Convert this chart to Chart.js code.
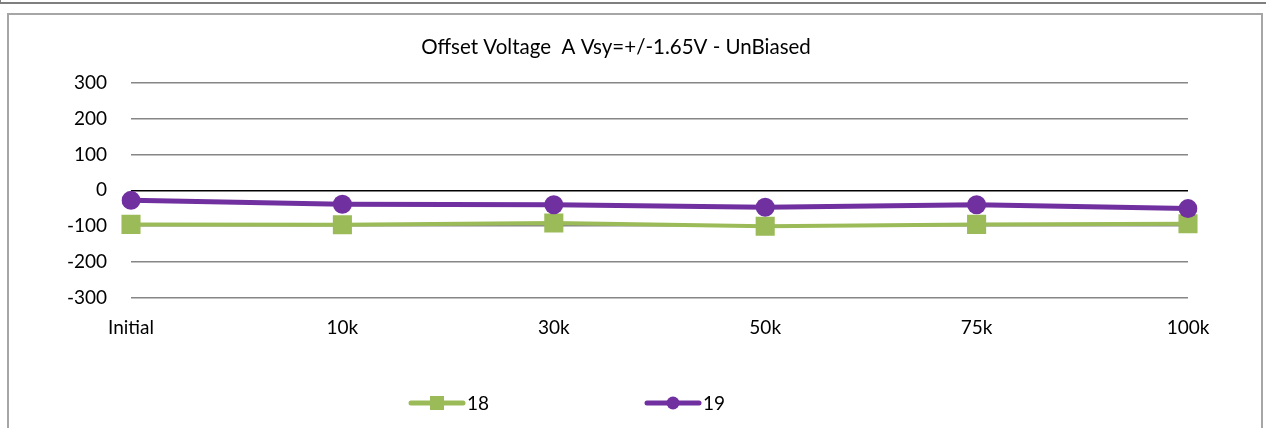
<!DOCTYPE html>
<html>
<head>
<meta charset="utf-8">
<script src="https://cdn.jsdelivr.net/npm/chart.js@4.4.1/dist/chart.umd.min.js"></script>
<style>
  html, body { margin: 0; padding: 0; background: #fff; overflow: hidden; }
  #topFrame { position: absolute; left: 0; top: 0; width: 1266px; height: 4px; border-left: 1px solid #7f7f7f; border-bottom: 2px solid #7f7f7f; box-sizing: border-box; }
  #frame { position: absolute; left: 7px; top: 13px; width: 1256px; height: 500px; border: 2px solid #a6a6a6; border-bottom: none; box-sizing: border-box; }
  #wrap { position: absolute; left: 0; top: 0; width: 1266px; height: 428px; }
</style>
</head>
<body>
<div id="topFrame"></div>
<div id="frame"></div>
<div id="wrap"><canvas id="chart" width="1266" height="428"></canvas></div>
<script>
// --- datos ---
const categories = ['Initial', '10k', '30k', '50k', '75k', '100k'];
const series18 = [-95, -96, -91, -100, -95, -93];
const series19 = [-28, -39, -40, -47, -40, -51];
const yTicks = [-300, -200, -100, 0, 100, 200, 300];

const GREEN = '#9BBB59';
const PURPLE = '#7030A0';
const FONT = 'Lato, "Open Sans", sans-serif';

// leyenda propia: línea + marcador, como en Excel
const legendPlugin = {
    id: 'excelLegend',
    afterDraw(chart) {
        const ctx = chart.ctx;
        const y = 403;
        const items = [
            { ds: chart.data.datasets[1], x: 411 },
            { ds: chart.data.datasets[0], x: 647 }
        ];
        ctx.save();
        items.forEach(it => {
            const ds = it.ds;
            ctx.strokeStyle = ds.borderColor;
            ctx.lineWidth = 5;
            ctx.lineCap = 'round';
            ctx.beginPath();
            ctx.moveTo(it.x, y);
            ctx.lineTo(it.x + 52, y);
            ctx.stroke();
            ctx.fillStyle = ds.backgroundColor;
            if (ds.pointStyle === 'rect') {
                ctx.fillRect(it.x + 26 - 7, y - 7, 14, 14);
            } else {
                ctx.beginPath();
                ctx.arc(it.x + 26, y, 6.5, 0, Math.PI * 2);
                ctx.fill();
            }
            ctx.fillStyle = '#000';
            ctx.font = '19px ' + FONT;
            ctx.textBaseline = 'middle';
            ctx.textAlign = 'left';
            ctx.fillText(ds.label, it.x + 56, y + 1);
        });
        ctx.restore();
    }
};

const ctx = document.getElementById('chart').getContext('2d');
const chart = new Chart(ctx, {
    type: 'line',
    data: {
        labels: categories,
        datasets: [{
            label: '19',
            data: series19,
            borderColor: PURPLE,
            backgroundColor: PURPLE,
            borderWidth: 5,
            pointStyle: 'circle',
            pointRadius: 9.5,
            pointHoverRadius: 9.5,
            pointBorderWidth: 0,
            tension: 0,
            order: 0
        }, {
            label: '18',
            data: series18,
            borderColor: GREEN,
            backgroundColor: GREEN,
            borderWidth: 4,
            pointStyle: 'rect',
            pointRadius: 13.5,
            pointHoverRadius: 13.5,
            pointBorderWidth: 0,
            tension: 0,
            order: 1
        }]
    },
    options: {
        responsive: false,
        animation: false,
        events: [],
        layout: { padding: { left: 44, right: 78, top: 0, bottom: 0 } },
        plugins: {
            legend: { display: false },
            tooltip: { enabled: false },
            title: {
                display: true,
                text: 'Offset Voltage  A Vsy=+/-1.65V - UnBiased',
                color: '#000',
                font: { family: FONT, size: 20.5, weight: 'normal' },
                padding: { top: 35, bottom: 23 }
            }
        },
        scales: {
            x: {
                offset: false,
                grid: { display: false, drawTicks: false },
                border: { display: false },
                ticks: { color: '#000', font: { family: FONT, size: 19 }, padding: 18, maxRotation: 0, autoSkip: false },
                afterFit(scale) { scale.height = 130; }
            },
            y: {
                min: -300,
                max: 300,
                afterBuildTicks(scale) { scale.ticks = yTicks.map(v => ({ value: v })); },
                grid: {
                    color: c => c.tick && c.tick.value === 0 ? '#000' : '#868686',
                    lineWidth: 1.5,
                    drawTicks: false
                },
                border: { display: false },
                ticks: { color: '#000', font: { family: FONT, size: 19 }, padding: 24 },
                afterFit(scale) { scale.width = 87; }
            }
        }
    },
    plugins: [legendPlugin]
});
</script>
</body>
</html>
